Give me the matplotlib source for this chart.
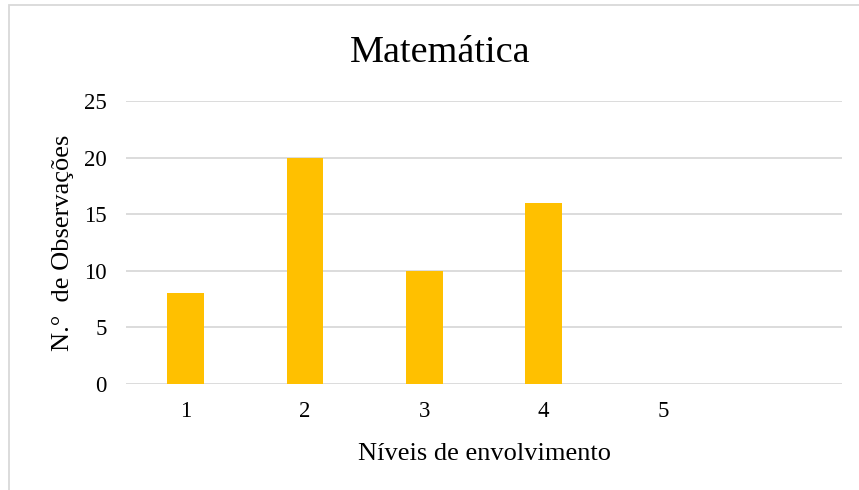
import numpy as np
import matplotlib.pyplot as plt
from matplotlib.patches import Rectangle

plt.rcParams['font.family'] = ['Liberation Serif', 'DejaVu Serif']

# Observation counts per engagement level (last slot is an empty category)
levels = ["1", "2", "3", "4", "5", ""]
counts = [8, 20, 10, 16, 0, 0]

fig = plt.figure(figsize=(8.59, 4.9), dpi=100)
ax = fig.add_axes([126 / 859, 1 - 384 / 490, (842 - 126) / 859, (384 - 101) / 490])

x = np.arange(len(levels))
ax.bar(x, counts, width=0.31, color="#FFC000", zorder=3)

ax.set_xlim(-0.5, len(levels) - 0.5)
ax.set_ylim(0, 25)
ax.set_yticks(range(0, 26, 5))
ax.set_xticks(x)
ax.set_xticklabels(levels)
ax.tick_params(length=0, labelsize=16.5, colors="black")
ax.tick_params(axis="y", pad=14)
ax.tick_params(axis="x", pad=12)
ax.grid(axis="y", color="#D9D9D9", linewidth=1.3, zorder=0)
for side in ["top", "right", "left", "bottom"]:
    ax.spines[side].set_visible(False)

ax.set_xlabel("Níveis de envolvimento", fontsize=19, labelpad=15)
ax.set_ylabel("N.°  de Observações", fontsize=19, labelpad=7)
fig.text(0.512, 1 - 62.5 / 490, "Matemática", fontsize=27.5, ha="center", va="baseline")

# Chart frame (right and bottom edges fall outside the canvas)
fig.patches.append(Rectangle((9 / 859, -0.1), 1.2, 1 - 5 / 490 + 0.1,
                             transform=fig.transFigure, fill=False,
                             edgecolor="#D9D9D9", linewidth=1.3))

fig.savefig("out.png", dpi=100)
